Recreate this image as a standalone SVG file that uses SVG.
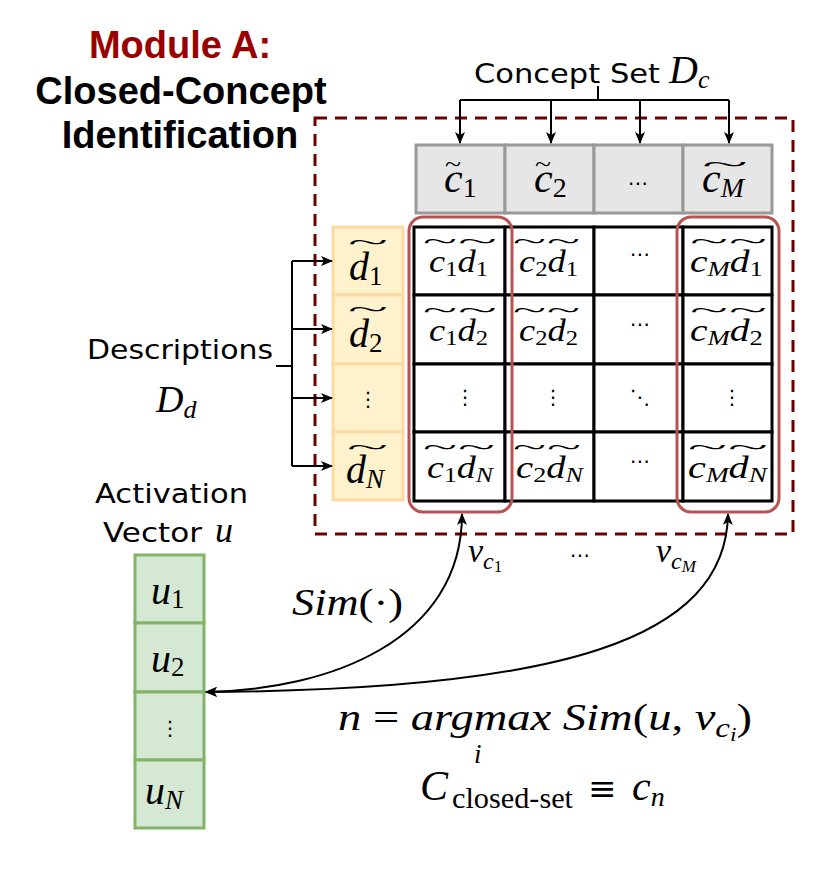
<svg xmlns="http://www.w3.org/2000/svg" width="814" height="892" viewBox="0 0 814 892">
<defs>
<marker id="ah" viewBox="0 0 12 10" markerWidth="12" markerHeight="10" refX="11" refY="5" orient="auto-start-reverse" markerUnits="userSpaceOnUse"><path d="M0,0 L12,5 L0,10 L3,5 z" fill="#000"/></marker>
</defs>
<style>
.title{font-family:"Liberation Sans",Arial,sans-serif;font-weight:bold;font-size:38px;text-anchor:middle}
.hand{font-family:"DejaVu Sans",sans-serif;font-size:27px}
.m{font-family:"Liberation Serif","DejaVu Serif",serif;font-style:italic}
.r{font-style:normal}
.cell{font-size:31px}
.s{font-size:21px}
.tl{font-family:"Liberation Serif",serif;font-size:22px}
.dots{font-family:"DejaVu Sans",sans-serif;font-size:20px;text-anchor:middle}
.hdr rect{fill:#e6e6e6;stroke:#999;stroke-width:3}
.ocol rect{fill:#fff2cc;stroke:#ffd9a3;stroke-width:3}
.gcol rect{fill:#d5e8d4;stroke:#82b366;stroke-width:3}
.grid rect{fill:#fff;stroke:#000;stroke-width:3}
.hl{fill:none;stroke:#b85450;stroke-width:3}
.conn{fill:none;stroke:#000;stroke-width:2}
</style>
<rect width="814" height="892" fill="#fff"/>

<g id="title">
<text class="title" x="180" y="58" fill="#990000">Module A:</text>
<text class="title" x="181" y="104">Closed-Concept</text>
<text class="title" x="180" y="148">Identification</text>
</g>

<g id="module-box">
<rect x="315" y="118" width="478" height="416" fill="none" stroke="#6b0000" stroke-width="3" stroke-dasharray="12 8"/>
</g>

<g id="concept-set-label">
<text class="hand" x="474" y="83" textLength="186" lengthAdjust="spacingAndGlyphs">Concept Set</text>
<text class="m" x="669" y="83" font-size="40">D<tspan font-size="26" dy="5">c</tspan></text>
</g>

<g id="concept-header" class="hdr">
<g id="hdr-c1"><rect x="416" y="145" width="89" height="68"/>
<text class="m" x="444" y="192" font-size="42">c<tspan class="r" font-size="28" dy="5">1</tspan></text>
<text class="tl" x="445" y="171" textLength="16" lengthAdjust="spacingAndGlyphs">~</text></g>
<g id="hdr-c2"><rect x="505" y="145" width="89" height="68"/>
<text class="m" x="534" y="192" font-size="42">c<tspan class="r" font-size="28" dy="5">2</tspan></text>
<text class="tl" x="535" y="171" textLength="16" lengthAdjust="spacingAndGlyphs">~</text></g>
<g id="hdr-dots"><rect x="594" y="145" width="89" height="68"/>
<text class="dots" x="638" y="190" font-size="22">⋯</text></g>
<g id="hdr-cM"><rect x="683" y="145" width="89" height="68"/>
<text class="m" x="702" y="192" font-size="42">c<tspan font-size="28" dy="5">M</tspan></text>
<text class="tl" x="702" y="171" textLength="46" lengthAdjust="spacingAndGlyphs">~</text></g>
</g>

<g id="descriptions-label">
<text class="hand" x="87" y="359" textLength="186" lengthAdjust="spacingAndGlyphs">Descriptions</text>
<text class="m" x="156" y="412" font-size="38">D<tspan font-size="26" dy="6">d</tspan></text>
</g>

<g id="description-column" class="ocol">
<g id="desc-d1"><rect x="333" y="227" width="70" height="68"/>
<text class="m" x="349" y="280" font-size="40">d<tspan class="r" font-size="27" dy="5">1</tspan></text>
<text class="tl" x="348" y="249" textLength="40" lengthAdjust="spacingAndGlyphs">~</text></g>
<g id="desc-d2"><rect x="333" y="295" width="70" height="69"/>
<text class="m" x="349" y="347" font-size="40">d<tspan class="r" font-size="27" dy="5">2</tspan></text>
<text class="tl" x="348" y="316" textLength="40" lengthAdjust="spacingAndGlyphs">~</text></g>
<g id="desc-dots"><rect x="333" y="364" width="70" height="68"/>
<text class="dots" x="368" y="406" font-size="22">⋮</text></g>
<g id="desc-dN"><rect x="333" y="432" width="70" height="68"/>
<text class="m" x="346" y="483" font-size="40">d<tspan font-size="27" dy="5">N</tspan></text>
<text class="tl" x="347" y="454" textLength="41" lengthAdjust="spacingAndGlyphs">~</text></g>
</g>

<g id="similarity-grid" class="grid">
<rect x="414" y="227" width="91" height="68"/><rect x="505" y="227" width="89" height="68"/><rect x="594" y="227" width="89" height="68"/><rect x="683" y="227" width="89" height="68"/>
<rect x="414" y="295" width="91" height="69"/><rect x="505" y="295" width="89" height="69"/><rect x="594" y="295" width="89" height="69"/><rect x="683" y="295" width="89" height="69"/>
<rect x="414" y="364" width="91" height="68"/><rect x="505" y="364" width="89" height="68"/><rect x="594" y="364" width="89" height="68"/><rect x="683" y="364" width="89" height="68"/>
<rect x="414" y="432" width="91" height="69"/><rect x="505" y="432" width="89" height="69"/><rect x="594" y="432" width="89" height="69"/><rect x="683" y="432" width="89" height="69"/>

<text class="m cell" x="429" y="272" textLength="59" lengthAdjust="spacingAndGlyphs">c<tspan class="r s" dy="4">1</tspan><tspan dy="-4">d</tspan><tspan class="r s" dy="4">1</tspan></text>
<text class="tl" x="423" y="248" textLength="34" lengthAdjust="spacingAndGlyphs">~</text><text class="tl" x="458" y="248" textLength="39" lengthAdjust="spacingAndGlyphs">~</text>
<text class="m cell" x="519" y="272" textLength="59" lengthAdjust="spacingAndGlyphs">c<tspan class="r s" dy="4">2</tspan><tspan dy="-4">d</tspan><tspan class="r s" dy="4">1</tspan></text>
<text class="tl" x="513" y="248" textLength="33" lengthAdjust="spacingAndGlyphs">~</text><text class="tl" x="547" y="248" textLength="33" lengthAdjust="spacingAndGlyphs">~</text>
<text class="dots" x="640" y="261">⋯</text>
<text class="m cell" x="690" y="272" textLength="73" lengthAdjust="spacingAndGlyphs">c<tspan class="s" dy="4">M</tspan><tspan dy="-4">d</tspan><tspan class="r s" dy="4">1</tspan></text>
<text class="tl" x="690" y="248" textLength="38" lengthAdjust="spacingAndGlyphs">~</text><text class="tl" x="729" y="248" textLength="38" lengthAdjust="spacingAndGlyphs">~</text>

<text class="m cell" x="429" y="341" textLength="59" lengthAdjust="spacingAndGlyphs">c<tspan class="r s" dy="4">1</tspan><tspan dy="-4">d</tspan><tspan class="r s" dy="4">2</tspan></text>
<text class="tl" x="423" y="317" textLength="34" lengthAdjust="spacingAndGlyphs">~</text><text class="tl" x="458" y="317" textLength="39" lengthAdjust="spacingAndGlyphs">~</text>
<text class="m cell" x="519" y="341" textLength="59" lengthAdjust="spacingAndGlyphs">c<tspan class="r s" dy="4">2</tspan><tspan dy="-4">d</tspan><tspan class="r s" dy="4">2</tspan></text>
<text class="tl" x="513" y="317" textLength="33" lengthAdjust="spacingAndGlyphs">~</text><text class="tl" x="547" y="317" textLength="33" lengthAdjust="spacingAndGlyphs">~</text>
<text class="dots" x="640" y="331">⋯</text>
<text class="m cell" x="690" y="341" textLength="73" lengthAdjust="spacingAndGlyphs">c<tspan class="s" dy="4">M</tspan><tspan dy="-4">d</tspan><tspan class="r s" dy="4">2</tspan></text>
<text class="tl" x="690" y="317" textLength="38" lengthAdjust="spacingAndGlyphs">~</text><text class="tl" x="729" y="317" textLength="38" lengthAdjust="spacingAndGlyphs">~</text>

<text class="dots" x="465" y="404">⋮</text>
<text class="dots" x="553" y="404">⋮</text>
<text class="dots" x="640" y="404">⋱</text>
<text class="dots" x="732" y="404">⋮</text>

<text class="m cell" x="427" y="478" textLength="66" lengthAdjust="spacingAndGlyphs">c<tspan class="r s" dy="4">1</tspan><tspan dy="-4">d</tspan><tspan class="s" dy="4">N</tspan></text>
<text class="tl" x="423" y="454" textLength="34" lengthAdjust="spacingAndGlyphs">~</text><text class="tl" x="458" y="454" textLength="37" lengthAdjust="spacingAndGlyphs">~</text>
<text class="m cell" x="516" y="478" textLength="67" lengthAdjust="spacingAndGlyphs">c<tspan class="r s" dy="4">2</tspan><tspan dy="-4">d</tspan><tspan class="s" dy="4">N</tspan></text>
<text class="tl" x="513" y="454" textLength="33" lengthAdjust="spacingAndGlyphs">~</text><text class="tl" x="547" y="454" textLength="34" lengthAdjust="spacingAndGlyphs">~</text>
<text class="dots" x="640" y="468">⋯</text>
<text class="m cell" x="688" y="478" textLength="79" lengthAdjust="spacingAndGlyphs">c<tspan class="s" dy="4">M</tspan><tspan dy="-4">d</tspan><tspan class="s" dy="4">N</tspan></text>
<text class="tl" x="688" y="454" textLength="39" lengthAdjust="spacingAndGlyphs">~</text><text class="tl" x="728" y="454" textLength="40" lengthAdjust="spacingAndGlyphs">~</text>
</g>

<g id="column-highlights">
<rect id="hl-c1" class="hl" x="409" y="217" width="103" height="295" rx="14"/>
<rect id="hl-cM" class="hl" x="677" y="217" width="102" height="295" rx="14"/>
</g>

<g id="activation-label">
<text class="hand" x="95" y="503" textLength="153" lengthAdjust="spacingAndGlyphs">Activation</text>
<text class="hand" x="103" y="542" textLength="99" lengthAdjust="spacingAndGlyphs">Vector</text>
<text class="m" x="215" y="542" font-size="36">u</text>
</g>

<g id="activation-vector" class="gcol">
<g id="u1"><rect x="135" y="555" width="69" height="68"/>
<text class="m" x="151" y="604" font-size="40">u<tspan class="r" font-size="27" dy="4">1</tspan></text></g>
<g id="u2"><rect x="135" y="623" width="69" height="69"/>
<text class="m" x="151" y="672" font-size="40">u<tspan class="r" font-size="27" dy="4">2</tspan></text></g>
<g id="udots"><rect x="135" y="692" width="69" height="68"/>
<text class="dots" x="170" y="735" font-size="22">⋮</text></g>
<g id="uN"><rect x="135" y="760" width="69" height="68"/>
<text class="m" x="145" y="804" font-size="40">u<tspan font-size="27" dy="5">N</tspan></text></g>
</g>

<g id="connectors" class="conn">
<path d="M598,86 V100 M460,100 H729"/>
<path d="M460,100 V143" marker-end="url(#ah)"/>
<path d="M551,100 V143" marker-end="url(#ah)"/>
<path d="M640,100 V143" marker-end="url(#ah)"/>
<path d="M729,100 V143" marker-end="url(#ah)"/>
<path d="M276,366 H292 M292,261 V466"/>
<path d="M292,261 H332" marker-end="url(#ah)"/>
<path d="M292,329 H332" marker-end="url(#ah)"/>
<path d="M292,398 H332" marker-end="url(#ah)"/>
<path d="M292,466 H332" marker-end="url(#ah)"/>
<path d="M206,692 C330,690 462,640 462,514" marker-start="url(#ah)" marker-end="url(#ah)"/>
<path d="M206,692 C560,690 726,640 728,514" marker-start="url(#ah)" marker-end="url(#ah)"/>
</g>

<g id="connector-labels">
<text class="m" x="468" y="562" font-size="34">v<tspan font-size="24" dy="7">c</tspan><tspan class="r" font-size="17" dy="3">1</tspan></text>
<text class="dots" x="580" y="562" font-size="26">⋯</text>
<text class="m" x="656" y="562" font-size="34">v<tspan font-size="24" dy="7">c</tspan><tspan font-size="17" dy="3">M</tspan></text>
<text class="m" x="292" y="615" font-size="38" textLength="111" lengthAdjust="spacingAndGlyphs">Sim<tspan class="r">(·)</tspan></text>
</g>

<g id="formula">
<text class="m" x="338" y="730" font-size="38" textLength="414" lengthAdjust="spacingAndGlyphs">n <tspan class="r">=</tspan> argmax Sim<tspan class="r">(</tspan>u<tspan class="r">, </tspan>v<tspan font-size="27" dy="7">c</tspan><tspan font-size="19" dy="4">i</tspan><tspan class="r" dy="-11">)</tspan></text>
<text class="m" x="474" y="763" font-size="27">i</text>
<text class="m" x="420" y="800" font-size="42">C</text>
<text x="452" y="808" font-family="Liberation Serif,serif" font-size="30" textLength="121" lengthAdjust="spacingAndGlyphs">closed-set</text>
<text x="588" y="800" font-family="DejaVu Serif,serif" font-size="34">≡</text>
<text class="m" x="632" y="800" font-size="42">c<tspan font-size="28" dy="6">n</tspan></text>
</g>
</svg>
